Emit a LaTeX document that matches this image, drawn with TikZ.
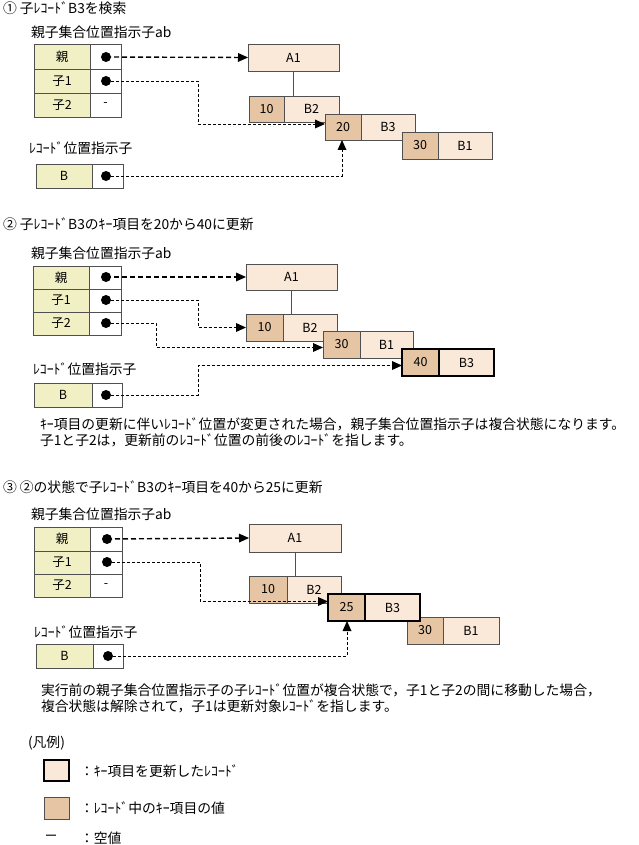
\documentclass[tikz,border=0pt]{standalone}
\usepackage{fontspec}
\setmainfont{Noto Sans CJK JP}
\usetikzlibrary{arrows.meta}
\definecolor{lab}{HTML}{F0F0C4}
\definecolor{recc}{HTML}{FAE8D8}
\definecolor{keyc}{HTML}{E6C5A5}
\definecolor{bd}{HTML}{505050}
\newcommand{\cellbox}[7]{\node[#6,minimum width={(#4-#2)*1pt},minimum height={(#5-#3)*1pt}] (#1) at ({(#2+#4)/2},{(#3+#5)/2}) {#7};}
\tikzset{
  every node/.style={font=\fontsize{12.5}{14}\selectfont, inner sep=0pt, outer sep=0pt},
  base/.style={draw=bd, line width=0.8pt},
  labc/.style={base, fill=lab},
  ptrc/.style={base, fill=white},
  recbox/.style={base, fill=recc},
  keybox/.style={base, fill=keyc},
  updbox/.style={draw=black, line width=2pt},
  txt/.style={anchor=west, font=\fontsize{13.8}{15}\selectfont},
  pthick/.style={line width=1.4pt, dash pattern=on 5pt off 3pt, -{Triangle[length=10pt,width=9pt,line width=0pt]}},
  pthin/.style={line width=0.9pt, dash pattern=on 3pt off 2pt, -{Triangle[length=10pt,width=9pt,line width=0pt]}},
  dotc/.style={fill=black, circle, minimum size=10pt}
}
\begin{document}
\begin{tikzpicture}[x=1pt,y=-1pt]
\useasboundingbox (0,0) rectangle (638,845);
% ===== Section 1 =====
\node[txt] (t1) at (3,8) {① 子ﾚｺｰﾄﾞB3を検索};
\node[txt] (l1) at (31,32) {親子集合位置指示子ab};
\cellbox{a1p}{34}{44}{90}{69}{labc}{親}
\cellbox{a1pp}{90}{44}{121}{69}{ptrc}{}
\cellbox{a1c}{34}{69}{90}{93}{labc}{子1}
\cellbox{a1cp}{90}{69}{121}{93}{ptrc}{}
\cellbox{a1d}{34}{93}{90}{117}{labc}{子2}
\cellbox{a1dp}{90}{93}{121}{117}{ptrc}{-}
\node[dotc] (d1p) at (106,57) {};
\node[dotc] (d1c) at (106,81) {};
\cellbox{A1a}{248}{44}{339}{71}{recbox}{A1}
\cellbox{B2ka}{249}{96}{284}{122}{keybox}{10}
\cellbox{B2a}{284}{96}{339}{122}{recbox}{B2}
\cellbox{B3ka}{325}{114}{361}{140}{keybox}{20}
\cellbox{B3a}{361}{114}{415}{140}{recbox}{B3}
\cellbox{B1ka}{402}{132}{438}{159}{keybox}{30}
\cellbox{B1a}{438}{132}{492}{159}{recbox}{B1}
\draw[bd, line width=0.8pt] (A1a.south) -- (A1a.south |- B2ka.north);
\node[txt] (r1) at (29,148) {ﾚｺｰﾄﾞ位置指示子};
\cellbox{b1}{36}{164}{92}{188}{labc}{B}
\cellbox{b1p}{92}{164}{123}{188}{ptrc}{}
\node[dotc] (d1b) at (106,176) {};
\coordinate (k1a) at (198,0);
\coordinate (k1b) at (342,0);
\draw[pthick] (d1p.center) -- (A1a.west);
\draw[pthin] (d1c.center) -- (d1c.center -| k1a) |- ([yshift=3pt]B3ka.west);
\draw[pthin] (d1b.center) -- (d1b.center -| k1b) -- (k1b |- B3ka.south);
% ===== Section 2 =====
\node[txt] (t2) at (3,224) {② 子ﾚｺｰﾄﾞB3のｷｰ項目を20から40に更新};
\node[txt] (l2) at (31,253) {親子集合位置指示子ab};
\cellbox{a2p}{33}{266}{89}{289}{labc}{親}
\cellbox{a2pp}{89}{266}{121}{289}{ptrc}{}
\cellbox{a2c}{33}{289}{89}{312}{labc}{子1}
\cellbox{a2cp}{89}{289}{121}{312}{ptrc}{}
\cellbox{a2d}{33}{312}{89}{335}{labc}{子2}
\cellbox{a2dp}{89}{312}{121}{335}{ptrc}{}
\node[dotc] (d2p) at (106,277) {};
\node[dotc] (d2c) at (106,300) {};
\node[dotc] (d2d) at (106,323) {};
\cellbox{A1b}{246}{264}{337}{290}{recbox}{A1}
\cellbox{B2kb}{246}{314}{283}{341}{keybox}{10}
\cellbox{B2b}{283}{314}{337}{341}{recbox}{B2}
\cellbox{B1kb}{323}{331}{360}{358}{keybox}{30}
\cellbox{B1b}{360}{331}{413}{358}{recbox}{B1}
\cellbox{B3kb}{402}{349}{439}{376}{keybox}{40}
\cellbox{B3b}{439}{349}{494}{376}{recbox}{B3}
\draw[updbox] (B3kb.north west) rectangle (B3b.south east);
\draw[black, line width=1.2pt] (B3kb.north east) -- (B3kb.south east);
\draw[bd, line width=0.8pt] (A1b.south) -- (A1b.south |- B2kb.north);
\node[txt] (r2) at (33,369) {ﾚｺｰﾄﾞ位置指示子};
\cellbox{b2}{34}{383}{92}{407}{labc}{B}
\cellbox{b2p}{92}{383}{122}{407}{ptrc}{}
\node[dotc] (d2b) at (106,395) {};
\coordinate (k2a) at (198,0);
\coordinate (k2b) at (156,0);
\draw[pthick] (d2p.center) -- (A1b.west);
\draw[pthin] (d2c.center) -- (d2c.center -| k2a) |- (B2kb.west);
\draw[pthin] (d2d.center) -- (d2d.center -| k2b) |- ([yshift=-3pt]B1kb.west);
\draw[pthin] (d2b.center) -- (d2b.center -| k2a) |- ([yshift=-3pt]B3kb.west);
\node[txt] (n2a) at (40,424) {ｷｰ項目の更新に伴いﾚｺｰﾄﾞ位置が変更された場合，親子集合位置指示子は複合状態になります。};
\node[txt] (n2b) at (40,440) {子1と子2は，更新前のﾚｺｰﾄﾞ位置の前後のﾚｺｰﾄﾞを指します。};
% ===== Section 3 =====
\node[txt] (t3) at (3,487) {③ ②の状態で子ﾚｺｰﾄﾞB3のｷｰ項目を40から25に更新};
\node[txt] (l3) at (31,514) {親子集合位置指示子ab};
\cellbox{a3p}{34}{527}{90}{551}{labc}{親}
\cellbox{a3pp}{90}{527}{122}{551}{ptrc}{}
\cellbox{a3c}{34}{551}{90}{574}{labc}{子1}
\cellbox{a3cp}{90}{551}{122}{574}{ptrc}{}
\cellbox{a3d}{34}{574}{90}{597}{labc}{子2}
\cellbox{a3dp}{90}{574}{122}{597}{ptrc}{-}
\node[dotc] (d3p) at (107,539) {};
\node[dotc] (d3c) at (107,562) {};
\cellbox{A1c}{249}{524}{341}{552}{recbox}{A1}
\cellbox{B2kc}{249}{576}{287}{603}{keybox}{10}
\cellbox{B2c}{287}{576}{341}{603}{recbox}{B2}
\cellbox{B1kc}{407}{617}{443}{644}{keybox}{30}
\cellbox{B1c}{443}{617}{499}{644}{recbox}{B1}
\cellbox{B3kc}{328}{594}{365}{621}{keybox}{25}
\cellbox{B3c}{365}{594}{420}{621}{recbox}{B3}
\draw[updbox] (B3kc.north west) rectangle (B3c.south east);
\draw[black, line width=1.2pt] (B3kc.north east) -- (B3kc.south east);
\draw[bd, line width=0.8pt] (A1c.south) -- (A1c.south |- B2kc.north);
\node[txt] (r3) at (34,632) {ﾚｺｰﾄﾞ位置指示子};
\cellbox{b3}{36}{644}{93}{668}{labc}{B}
\cellbox{b3p}{93}{644}{123}{668}{ptrc}{}
\node[dotc] (d3b) at (108,656) {};
\coordinate (k3a) at (200,0);
\coordinate (k3b) at (347,0);
\draw[pthick] (d3p.center) -- (A1c.west);
\draw[pthin] (d3c.center) -- (d3c.center -| k3a) |- ([yshift=6pt]B3kc.west);
\draw[pthin] (d3b.center) -- (d3b.center -| k3b) -- (k3b |- B3kc.south);
\node[txt] (n3a) at (41,690) {実行前の親子集合位置指示子の子ﾚｺｰﾄﾞ位置が複合状態で，子1と子2の間に移動した場合，};
\node[txt] (n3b) at (41,706) {複合状態は解除されて，子1は更新対象ﾚｺｰﾄﾞを指します。};
% ===== Legend =====
\node[txt] (lg) at (28,743) {(凡例)};
\cellbox{lg1}{44}{760}{69}{781}{recbox}{}
\draw[updbox] (lg1.north west) rectangle (lg1.south east);
\node[txt] (lg1t) at (80,771) {：ｷｰ項目を更新したﾚｺｰﾄﾞ};
\cellbox{lg2}{44}{797}{69}{819}{keybox}{}
\node[txt] (lg2t) at (80,808) {：ﾚｺｰﾄﾞ中のｷｰ項目の値};
\node (lg3) at (51,838) {ー};
\node[txt] (lg3t) at (80,838) {：空値};
\end{tikzpicture}
\end{document}
